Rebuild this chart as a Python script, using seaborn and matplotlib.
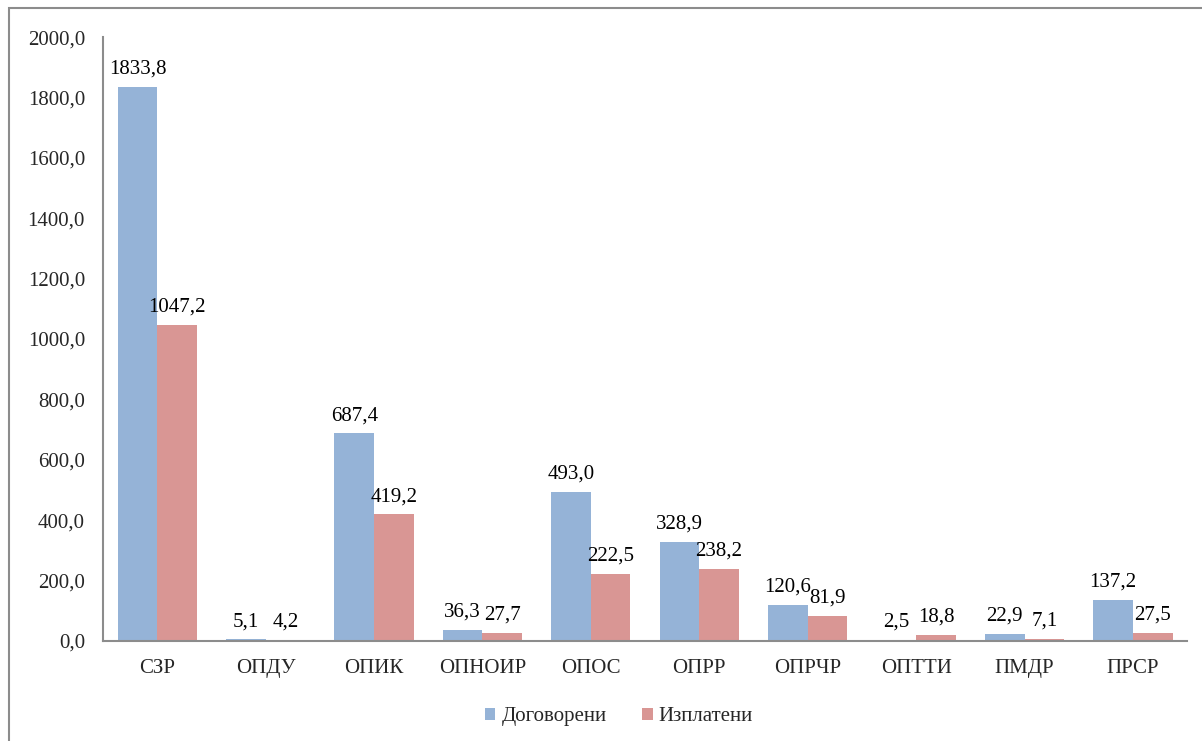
import pandas as pd
import matplotlib.pyplot as plt
import seaborn as sns
from matplotlib.patches import Patch, Rectangle

# Data
programs = ['СЗР', 'ОПДУ', 'ОПИК', 'ОПНОИР', 'ОПОС', 'ОПРР', 'ОПРЧР', 'ОПТТИ', 'ПМДР', 'ПРСР']
contracted = [1833.8, 5.1, 687.4, 36.3, 493.0, 328.9, 120.6, 2.5, 22.9, 137.2]
paid = [1047.2, 4.2, 419.2, 27.7, 222.5, 238.2, 81.9, 18.8, 7.1, 27.5]
series_names = ['Договорени', 'Изплатени']
colors = ['#95B3D7', '#D99694']

df = pd.DataFrame({
    'Програма': programs * 2,
    'Стойност': contracted + paid,
    'Серия': [series_names[0]] * len(programs) + [series_names[1]] * len(programs),
})

sns.set_style('white')
plt.rcParams['font.family'] = ['Liberation Serif', 'DejaVu Serif']
fs = 15

fig = plt.figure(figsize=(12.02, 7.41), dpi=100)
ax = fig.add_axes([0.0857, 0.135, 0.902, 0.815])

sns.barplot(data=df, x='Програма', y='Стойност', hue='Серия', palette=colors,
            width=0.73, gap=0, saturation=1, ax=ax, legend=False, linewidth=0)

# Value labels with comma decimals
for cont, vals in zip(ax.containers, [contracted, paid]):
    ax.bar_label(cont, labels=[f'{v:.1f}'.replace('.', ',') for v in vals],
                 padding=6, fontsize=fs, color='black')

ax.set_ylim(0, 2000)
ax.set_xlim(-0.5, len(programs) - 0.5)
ax.set_yticks(range(0, 2001, 200))
ax.set_yticklabels([f'{t:.1f}'.replace('.', ',') for t in range(0, 2001, 200)])
ax.tick_params(axis='both', length=0, labelsize=fs, pad=13)
ax.tick_params(axis='y', pad=13)
ax.set_xlabel('')
ax.set_ylabel('')

for side in ['top', 'right']:
    ax.spines[side].set_visible(False)
for side in ['left', 'bottom']:
    ax.spines[side].set_color('#8C8C8C')
    ax.spines[side].set_linewidth(1.5)

# Legend at the bottom
handles = [Patch(facecolor=c, edgecolor='none') for c in colors]
fig.legend(handles, series_names, loc='center', bbox_to_anchor=(0.515, 0.033), ncol=2,
           frameon=False, fontsize=fs, handlelength=0.5, handleheight=0.5,
           handletextpad=0.3, columnspacing=1.7)

# Outer chart border
fig.patches.append(Rectangle((9 / 1202, -0.05), 1.1, 1.05 - 8 / 741,
                             transform=fig.transFigure, fill=False,
                             edgecolor='#8C8C8C', linewidth=1.5))

fig.savefig('out.png', dpi=100)
